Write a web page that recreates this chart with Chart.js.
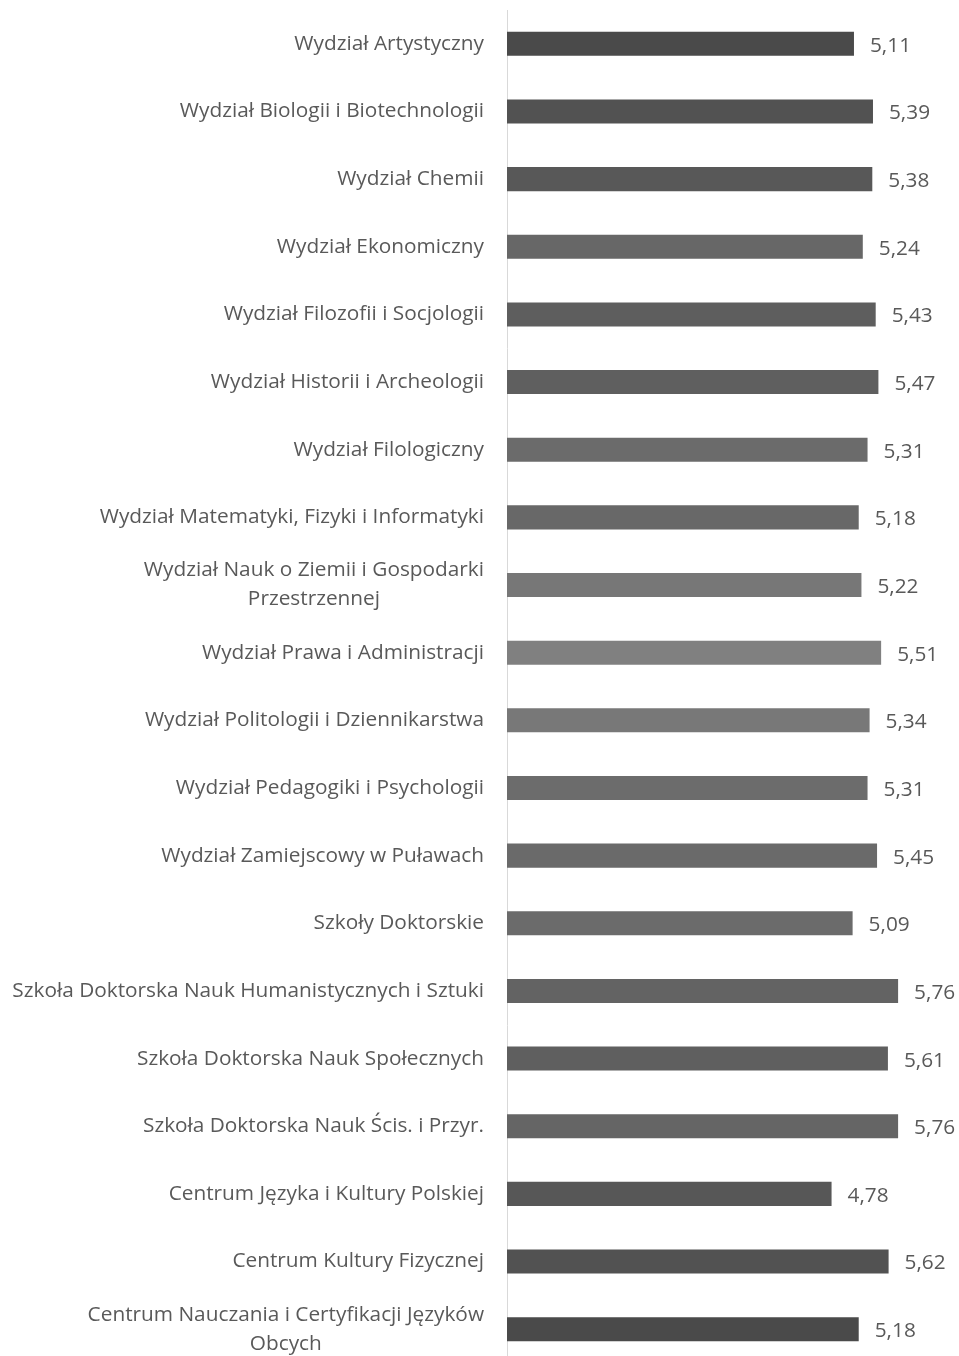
<!DOCTYPE html>
<html>
<head>
<meta charset="utf-8">
<script src="https://cdn.jsdelivr.net/npm/chart.js@4"></script>
<style>
  html, body { margin: 0; padding: 0; background: #fff; overflow: hidden; }
  #wrap { width: 959px; height: 1366px; }
</style>
</head>
<body>
<div id="wrap"><canvas id="chart"></canvas></div>
<script>
// category labels (multi-line labels as arrays)
const units = [
  'Wydział Artystyczny',
  'Wydział Biologii i Biotechnologii',
  'Wydział Chemii',
  'Wydział Ekonomiczny',
  'Wydział Filozofii i Socjologii',
  'Wydział Historii i Archeologii',
  'Wydział Filologiczny',
  'Wydział Matematyki, Fizyki i Informatyki',
  ['Wydział Nauk o Ziemii i Gospodarki', 'Przestrzennej'],
  'Wydział Prawa i Administracji',
  'Wydział Politologii i Dziennikarstwa',
  'Wydział Pedagogiki i Psychologii',
  'Wydział Zamiejscowy w Puławach',
  'Szkoły Doktorskie',
  'Szkoła Doktorska Nauk Humanistycznych i Sztuki',
  'Szkoła Doktorska Nauk Społecznych',
  'Szkoła Doktorska Nauk Ścis. i Przyr.',
  'Centrum Języka i Kultury Polskiej',
  'Centrum Kultury Fizycznej',
  ['Centrum Nauczania i Certyfikacji Języków', 'Obcych']
];

const scores = [5.11, 5.39, 5.38, 5.24, 5.43, 5.47, 5.31, 5.18, 5.22, 5.51,
                5.34, 5.31, 5.45, 5.09, 5.76, 5.61, 5.76, 4.78, 5.62, 5.18];

const barColors = ['#4a4a4a', '#525252', '#585858', '#676767', '#5e5e5e',
                   '#5f5f5f', '#6b6b6b', '#686868', '#777777', '#808080',
                   '#787878', '#6c6c6c', '#6a6a6a', '#6b6b6b', '#636363',
                   '#5f5f5f', '#656565', '#575757', '#525252', '#4a4a4a'];

const FONT = '20.8px "Open Sans", Lato, sans-serif';
const TEXT_COLOR = '#595959';

// draws category names left of the axis and value labels after each bar
const labelsPlugin = {
  id: 'labelsPlugin',
  afterDatasetsDraw(chart) {
    const ctx = chart.ctx;
    const yScale = chart.scales.y;
    const meta = chart.getDatasetMeta(0);
    ctx.save();
    ctx.font = FONT;
    ctx.fillStyle = TEXT_COLOR;
    ctx.textBaseline = 'middle';

    units.forEach((lbl, i) => {
      const lines = Array.isArray(lbl) ? lbl : [lbl];
      const yc = yScale.getPixelForValue(i);
      const lineH = 29;
      const widths = lines.map(l => ctx.measureText(l).width);
      const blockW = Math.max(...widths);
      const rightX = 484;
      ctx.textAlign = 'center';
      lines.forEach((l, j) => {
        const y = yc + (j - (lines.length - 1) / 2) * lineH;
        ctx.fillText(l, rightX - blockW / 2, y);
      });
    });

    ctx.textAlign = 'left';
    meta.data.forEach((bar, i) => {
      const txt = scores[i].toFixed(2).replace('.', ',');
      ctx.fillText(txt, bar.x + 16, bar.y + 2);
    });
    ctx.restore();
  }
};

new Chart(document.getElementById('chart'), {
  type: 'bar',
  data: {
    labels: units,
    datasets: [{
      data: scores,
      backgroundColor: barColors,
      borderWidth: 0,
      categoryPercentage: 1,
      barPercentage: 0.355
    }]
  },
  options: {
    indexAxis: 'y',
    responsive: true,
    maintainAspectRatio: false,
    animation: false,
    layout: { padding: { left: 507, right: 44.6, top: 10, bottom: 3 } },
    plugins: {
      legend: { display: false },
      tooltip: { enabled: false }
    },
    scales: {
      x: {
        display: false,
        min: 0,
        max: 6
      },
      y: {
        grid: { display: false, drawTicks: false },
        ticks: { display: false },
        border: { display: true, color: '#d9d9d9', width: 1 }
      }
    }
  },
  plugins: [labelsPlugin]
});
</script>
</body>
</html>
